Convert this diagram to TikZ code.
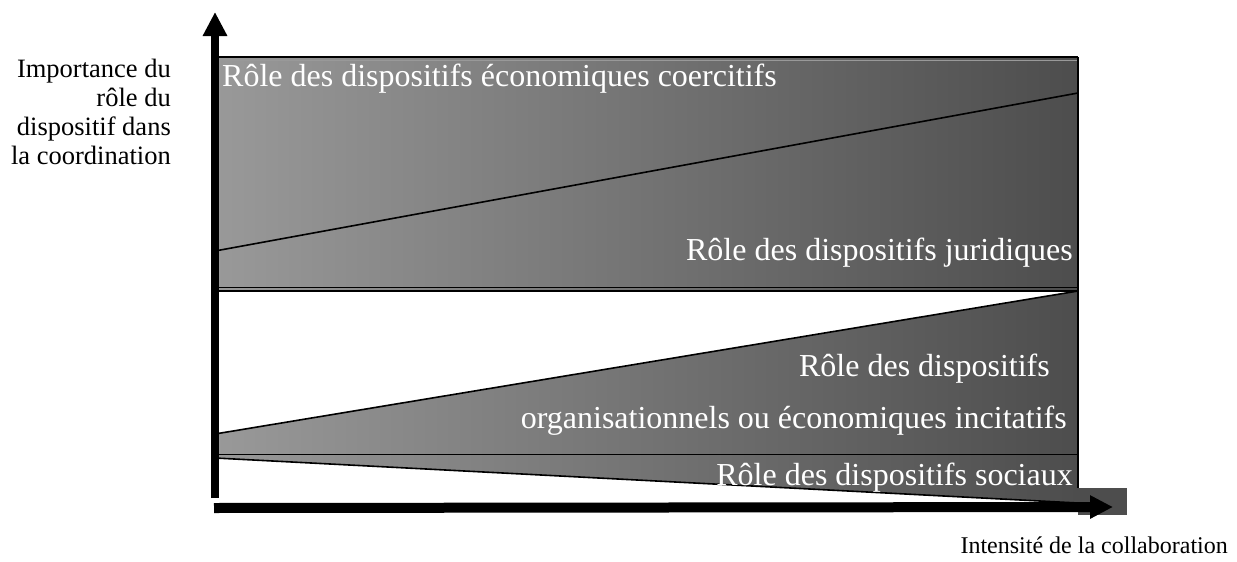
\documentclass[tikz,border=0pt]{standalone}
\usepackage{fontspec}
\setmainfont{Liberation Serif}
\usetikzlibrary{arrows.meta}
\definecolor{bandlight}{HTML}{999999}
\definecolor{banddark}{HTML}{4D4D4D}
\begin{document}
\begin{tikzpicture}[x=1pt,y=-1pt,
  band/.style={left color=bandlight,right color=banddark,draw=none},
  edgeline/.style={line width=1.6pt,black},
  role/.style={text=white,inner sep=0pt,font=\fontsize{32}{38}\selectfont},
  ylab/.style={inner sep=0pt,anchor=base east,font=\fontsize{26.5}{29}\selectfont},
  xlab/.style={inner sep=0pt,anchor=base east,font=\fontsize{24}{29}\selectfont},
  axisline/.style={line width=8pt,black}]
\useasboundingbox (0,0) rectangle (1237,562);
% key coordinates
\coordinate (tl) at (215,57);
\coordinate (tr) at (1078,57);
% top band
\shade[band] (tl) rectangle (1078,289);
\draw[edgeline] (215,251) coordinate (jl) -- (1078,93) coordinate (jr);
\draw[line width=2.5pt] (tl) -- (tr);
\draw[line width=1.2pt,white!60!black] (215,60.5) coordinate (gl) -- (1078,60.5) coordinate (gr);
\draw[edgeline] (215,287.5) coordinate (d1l) -- (1078,287.5) coordinate (d1r);
\draw[edgeline] (215,291) coordinate (d2l) -- (1078,291) coordinate (d2r);
% lower band (wedge)
\coordinate (wl) at (215,434);
\coordinate (wr) at (1078,291);
\coordinate (bl) at (215,458);
\coordinate (br) at (1078,503);
\shade[band] (wl) -- (wr) -- (br) -- (bl) -- cycle;
\draw[edgeline] (wl) -- (wr);
\draw[edgeline] (bl) -- (br);
\draw[edgeline] (215,454.5) coordinate (hl) -- (1078,454.5) coordinate (hr);
\draw[line width=2pt] (tr) -- (1078,488) coordinate (rb);
\fill[banddark] (1078,488) rectangle (1127,515);
% axes
\coordinate (yo) at (215,498);
\coordinate (yt) at (215,12);
\coordinate (xo) at (214,508);
\coordinate (xt) at (1113,507);
\draw[axisline,-{Triangle[length=24pt 0 0,width=23pt 0 0]}] (yo) -- (yt);
\draw[line width=10pt,black,-{Triangle[length=23pt 0 0,width=22pt 0 0]}] (xo) -- (xt);
% texts
\node[role,anchor=base west] (t1) at (222,86) {Rôle des dispositifs économiques coercitifs};
\node[role,anchor=base east] (t2) at (1073,260) {Rôle des dispositifs juridiques};
\node[role,anchor=base east] (t3) at (1050,376) {Rôle des dispositifs};
\node[role,anchor=base east] (t4) at (1067,428) {organisationnels ou économiques incitatifs};
\node[role,anchor=base east] (t5) at (1073,485) {Rôle des dispositifs sociaux};
\node[ylab] (l1) at (171,77) {Importance du};
\node[ylab] (l2) at (171,106) {rôle du};
\node[ylab] (l3) at (171,135) {dispositif dans};
\node[ylab] (l4) at (171,164) {la coordination};
\node[xlab] (xl) at (1228,553) {Intensité de la collaboration};
\end{tikzpicture}
\end{document}
